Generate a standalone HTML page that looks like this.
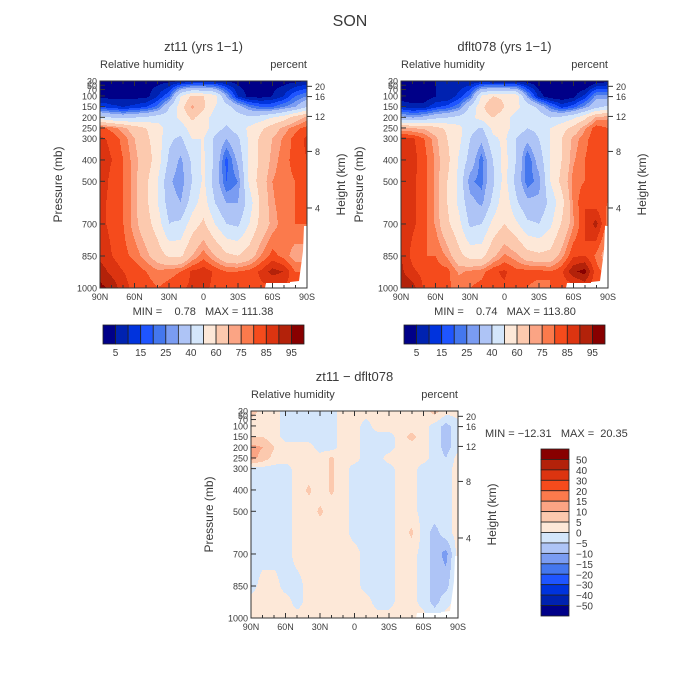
<!DOCTYPE html>
<html><head><meta charset="utf-8">
<style>
body{margin:0;background:#fff;}
#wrap{position:relative;width:700px;height:700px;overflow:hidden;}
canvas{position:absolute;image-rendering:pixelated;}
svg{position:absolute;left:0;top:0;}
text{font-family:"Liberation Sans",sans-serif;fill:#3a3a3a;white-space:pre;}
</style></head><body>
<div id="wrap">
<canvas id="c1" width="207" height="207" style="left:100px;top:81px"></canvas>
<canvas id="c2" width="207" height="207" style="left:401px;top:81px"></canvas>
<canvas id="c3" width="207" height="207" style="left:251px;top:411px"></canvas>
<svg id="s" width="700" height="700" xml:space="preserve"></svg>
</div>
<script>
// ---- data ----
const lats = [90,80,70,60,50,40,30,20,10,0,-10,-20,-30,-40,-50,-60,-70,-80,-90];
const pLevels = [30,100,150,200,250,300,400,500,600,700,850,925,1000];
const rhLevels = [5,10,15,20,25,30,40,50,60,70,75,80,85,90,95];
const diffLevels = [-50,-40,-30,-20,-15,-10,-5,0,5,10,15,20,30,40,50];
const rhTickLabels = ["5","15","25","40","60","75","85","95"];
const diffTickLabels = ["50","40","30","20","15","10","5","0","\u22125","\u221210","\u221215","\u221220","\u221230","\u221240","\u221250"];
const latTickLabels = ["90N","60N","30N","0","30S","60S","90S"];
const pTickLabels = [30,50,70,100,150,200,250,300,400,500,700,850,1000];
const zTickLabels = [20,16,12,8,4];
const zTickP = [55,103,196,360,625];
const rhZt11 = [
[3,3,3,3,3,3,4,6,8,8,7,5,3,3,3,3,3,4,6],
[3,3,3,3,3,10,20,50,62,60,55,30,10,3,3,5,10,20,25],
[15,12,10,12,15,22,40,55,72,62,50,45,35,25,20,20,25,30,40],
[45,40,38,40,42,45,45,52,62,55,45,45,45,42,45,50,55,65,72],
[82,78,72,65,60,55,45,45,55,55,45,38,45,52,58,65,72,78,82],
[86,84,78,70,62,55,42,38,50,50,38,30,38,52,62,70,76,82,86],
[87,85,80,72,65,55,38,28,42,52,38,18,32,52,62,72,78,82,85],
[87,84,80,72,62,50,32,25,40,52,35,20,25,52,65,75,78,80,82],
[86,84,80,72,62,50,35,30,45,55,40,30,30,45,62,74,78,80,82],
[86,84,80,72,64,55,40,42,55,62,50,40,38,50,63,72,78,80,80],
[88,85,82,78,72,65,58,58,70,78,70,62,60,65,75,82,78,72,72],
[93,88,85,84,80,76,78,80,86,88,84,80,80,82,86,92,90,80,80],
[96,94,86,84,83,80,82,84,86,86,84,82,80,82,84,84,84,84,84]];
const rhDiff = [
[7,3,2,-2,-2,-2,-2,-2,2,2,2,2,2,2,2,2,7,2,2],
[2,2,2,-2,-2,-2,-2,-2,2,2,-2,2,2,2,2,2,-2,-7,-2],
[5,5,2,-2,-2,-2,-2,-2,2,2,-2,-2,-2,2,7,2,-2,-7,-2],
[12,10,5,2,2,2,-2,-2,2,2,-2,-2,-2,2,2,2,-2,-7,-2],
[12,8,3,2,2,2,2,6,2,2,-2,-2,2,2,2,2,-2,-5,2],
[-2,-2,-2,-2,2,2,2,6,2,-2,-2,-2,-2,2,2,-2,-2,-2,2],
[-2,-2,-2,-2,2,6,2,6,2,-2,-2,-2,-2,2,2,-2,-2,-2,2],
[-2,-2,-2,-2,2,2,6,2,2,-2,-2,-2,-2,2,2,-2,-2,-2,2],
[-2,-2,-2,-2,2,2,2,2,2,-2,-2,-2,-2,2,6,-2,-7,-2,2],
[-2,-2,-2,-2,2,2,2,2,2,2,-2,-2,-2,2,2,-2,-7,-12,2],
[-2,2,2,-2,-2,2,2,2,2,2,-2,-2,-2,2,2,-2,-7,-7,2],
[2,2,2,2,-2,2,2,2,2,2,2,-2,-2,2,2,-2,-7,-2,2],
[2,2,2,2,2,2,2,2,2,2,2,2,2,2,2,2,-2,2,2]];
const rhDflt = rhZt11.map((r,i)=>r.map((v,j)=>v-rhDiff[i][j]));

const rhColors = ["#000088","#0022b0","#0033dd","#1f55ff","#4477ee","#7a9cf2","#aec4f6","#d4e6fb","#fde8d8","#fcc9ae","#fba484","#fb7a4c","#f54b1c","#dc3410","#b3220a","#880000"];
const diffColors = rhColors;

// ---- rendering ----
function valAt(grid,px,py,W,H){
  const lf = px/(W-1)*(lats.length-1);
  const p = 30 + py/(H-1)*970;
  let k=0; while(k<pLevels.length-2 && p>pLevels[k+1]) k++;
  const t=(p-pLevels[k])/(pLevels[k+1]-pLevels[k]);
  const j=Math.min(Math.floor(lf),lats.length-2), u=lf-j;
  const a=grid[k][j]*(1-u)+grid[k][j+1]*u, b=grid[k+1][j]*(1-u)+grid[k+1][j+1]*u;
  return a*(1-t)+b*t;
}
function bin(v,levels){let i=0;while(i<levels.length&&v>=levels[i])i++;return i;}
function draw(id,grid,levels,colors,mask){
  const c=document.getElementById(id),ctx=c.getContext('2d');
  for(let y=0;y<207;y++)for(let x=0;x<207;x++){
    ctx.fillStyle=colors[bin(valAt(grid,x,y,207,207),levels)];
    ctx.fillRect(x,y,1,1);
  }
  if(mask){ctx.fillStyle="#fff";ctx.beginPath();ctx.moveTo(207,145);ctx.lineTo(204,145);ctx.lineTo(203,170);ctx.lineTo(199,200);ctx.lineTo(190,201);ctx.lineTo(190,202);ctx.lineTo(166,202);ctx.lineTo(165,207);ctx.lineTo(207,207);ctx.fill();}
}
draw('c1',rhZt11,rhLevels,rhColors,true);
draw('c2',rhDflt,rhLevels,rhColors,true);
draw('c3',rhDiff,diffLevels,diffColors,true);

const svg=document.getElementById('s'),NS="http://www.w3.org/2000/svg";
function el(tag,attrs,txt){const e=document.createElementNS(NS,tag);for(const k in attrs)e.setAttribute(k,attrs[k]);if(txt!==undefined)e.textContent=txt;svg.appendChild(e);return e;}
function T(x,y,s,size,anchor,name,rot){const a={x:x,y:y,'font-size':size,'text-anchor':anchor||'start'};if(rot)a.transform='rotate(-90 '+x+' '+y+')';const e=el('text',a,s);return e;}

T(350,26,"SON",16,'middle','main-title');
function panel(x0,y0,title,minmax,mmx,mmy,mmAnchor){
  const W=207,H=207;
  T(x0+W/2,y0-30,title,13,'middle','panel-title');
  T(x0,y0-13,"Relative humidity",11,'start','variable-label');
  T(x0+W,y0-13,"percent",11,'end','units-label');
  const f=el('rect',{x:x0,y:y0,width:W,height:H,fill:'none',stroke:'#333','stroke-width':1});
  
  const py=p=>y0+(p-30)/970*H, lx=l=>x0+(90-l)/180*W;
  pTickLabels.forEach(p=>{
    el('line',{x1:x0,x2:x0+5,y1:py(p),y2:py(p),stroke:'#333'});
    T(x0-3,py(p)+3.5,String(p),9,'end','pressure-tick-label');
  });
  for(let l=90;l>=-90;l-=10){
    const big=l%30===0;
    el('line',{x1:lx(l),x2:lx(l),y1:y0+H,y2:y0+H-(big?5:3),stroke:'#333'});
    el('line',{x1:lx(l),x2:lx(l),y1:y0,y2:y0+(big?5:3),stroke:'#333'});
  }
  latTickLabels.forEach((s,i)=>T(lx(90-30*i),y0+H+12,s,9,'middle','latitude-tick-label'));
  zTickLabels.forEach((z,i)=>{el('line',{x1:x0+W,x2:x0+W+5,y1:py(zTickP[i]),y2:py(zTickP[i]),stroke:'#333'});T(x0+W+8,py(zTickP[i])+3.5,String(z),9,'start','height-tick-label');});
  T(x0-38,y0+H/2,"Pressure (mb)",12,'middle','y-axis-title',true);
  T(x0+W+38,y0+H/2,"Height (km)",12,'middle','right-axis-title',true);
  T(mmx,mmy,minmax,11,mmAnchor,'min-max-label');
}
panel(100,81,"zt11 (yrs 1\u22121)","MIN =    0.78   MAX = 111.38",203,315,'middle');
panel(401,81,"dflt078 (yrs 1\u22121)","MIN =    0.74   MAX = 113.80",505,315,'middle');
panel(251,411,"zt11 \u2212 dflt078","MIN = \u221212.31   MAX =  20.35",485,437,'start');

function hbar(x0,y0,w,h){
  const bw=w/rhColors.length;
  rhColors.forEach((c,i)=>{const r=el('rect',{x:x0+i*bw,y:y0,width:bw,height:h,fill:c,stroke:'#222','stroke-width':0.8});
    });
  rhTickLabels.forEach((s,i)=>T(x0+bw*(1+2*i),y0+h+12,s,10,'middle','colorbar-label'));
}
hbar(103,325,201,19);
hbar(404,325,201,19);
(function(){
  const x0=541,y0=449,w=28,h=167,bh=h/diffColors.length;
  diffColors.slice().reverse().forEach((c,i)=>{const r=el('rect',{x:x0,y:y0+i*bh,width:w,height:bh,fill:c,stroke:'#222','stroke-width':0.8});
    });
  diffTickLabels.forEach((s,i)=>T(x0+35,y0+bh*(i+1)+4,s,10,'start','diff-colorbar-label'));
})();
</script>
</body></html>
